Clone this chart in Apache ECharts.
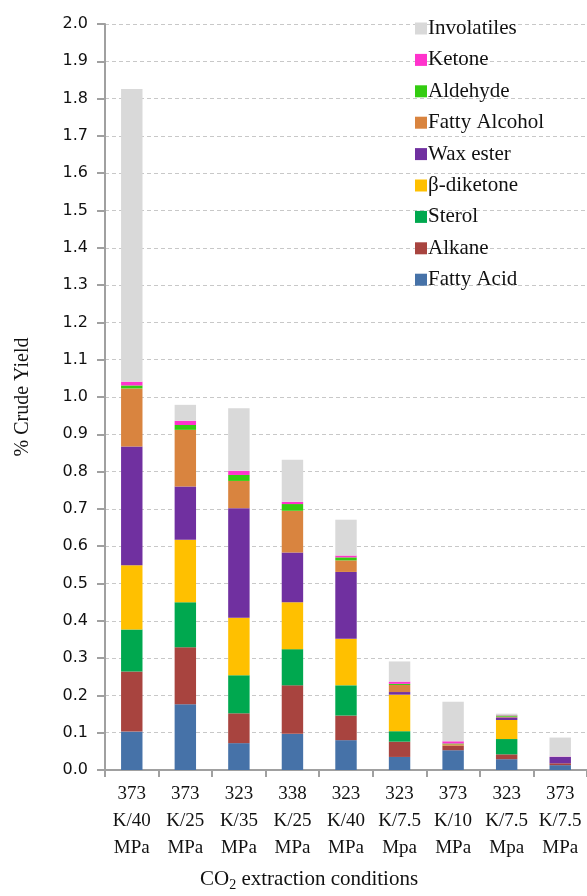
<!DOCTYPE html>
<html>
<head>
<meta charset="utf-8">
<script src="https://cdn.jsdelivr.net/npm/echarts@6/dist/echarts.min.js"></script>
<style>
  html, body { margin: 0; padding: 0; background: #fff; }
  #chart { width: 587px; height: 896px; }
</style>
</head>
<body>
<div id="chart"></div>
<script>
// Extraction conditions (temperature / pressure)
const conditions = [
  '373\nK/40\nMPa', '373\nK/25\nMPa', '323\nK/35\nMPa', '338\nK/25\nMPa', '323\nK/40\nMPa',
  '323\nK/7.5\nMpa', '373\nK/10\nMPa', '323\nK/7.5\nMpa', '373\nK/7.5\nMPa'
];

// Crude yield fractions (%) per compound class
const fattyAcid    = [0.103, 0.176, 0.072, 0.097, 0.080, 0.035, 0.053, 0.029, 0.013];
const alkane       = [0.161, 0.153, 0.080, 0.130, 0.066, 0.041, 0.012, 0.013, 0.005];
const sterol       = [0.113, 0.121, 0.102, 0.097, 0.081, 0.028, 0.000, 0.041, 0.000];
const betaDiketone = [0.172, 0.167, 0.154, 0.126, 0.125, 0.098, 0.000, 0.051, 0.000];
const waxEster     = [0.318, 0.143, 0.294, 0.133, 0.179, 0.007, 0.000, 0.007, 0.017];
const fattyAlcohol = [0.156, 0.152, 0.073, 0.112, 0.031, 0.019, 0.004, 0.002, 0.000];
const aldehyde     = [0.008, 0.013, 0.016, 0.018, 0.008, 0.003, 0.002, 0.003, 0.000];
const ketone       = [0.010, 0.011, 0.011, 0.006, 0.005, 0.006, 0.006, 0.001, 0.001];
const involatiles  = [0.785, 0.043, 0.168, 0.113, 0.096, 0.054, 0.106, 0.004, 0.051];

const yTicks = { min: 0, max: 2.0, interval: 0.1 };

const seriesDefs = [
  { name: 'Fatty Acid',    data: fattyAcid,    color: '#4672a8' },
  { name: 'Alkane',        data: alkane,       color: '#a8443f' },
  { name: 'Sterol',        data: sterol,       color: '#00a84f' },
  { name: 'β-diketone',    data: betaDiketone, color: '#ffc000' },
  { name: 'Wax ester',     data: waxEster,     color: '#7030a0' },
  { name: 'Fatty Alcohol', data: fattyAlcohol, color: '#d9843f' },
  { name: 'Aldehyde',      data: aldehyde,     color: '#33cc11' },
  { name: 'Ketone',        data: ketone,       color: '#ff33cc' },
  { name: 'Involatiles',   data: involatiles,  color: '#d9d9d9' }
];

const serif = '"Liberation Serif", "DejaVu Serif", serif';
const sans = '"DejaVu Sans", Verdana, sans-serif';

const chart = echarts.init(document.getElementById('chart'), null, { renderer: 'canvas' });

chart.setOption({
  animation: false,
  backgroundColor: '#ffffff',
  grid: { left: 105, right: 0, top: 24, bottom: 126, containLabel: false },
  legend: {
    orient: 'vertical',
    left: 410,
    top: 13,
    itemWidth: 12,
    itemHeight: 12,
    itemGap: 10.4,
    icon: 'rect',
    data: seriesDefs.map(s => s.name).reverse(),
    textStyle: { fontFamily: serif, fontSize: 21, color: '#111', padding: [0, 0, 0, -4], lineHeight: 21 }
  },
  xAxis: {
    type: 'category',
    data: conditions,
    axisLine: { lineStyle: { color: '#a0a0a0', width: 2 } },
    axisTick: { show: true, length: 7, lineStyle: { color: '#a0a0a0', width: 2 } },
    axisLabel: { fontFamily: serif, fontSize: 19, lineHeight: 27, color: '#111', margin: 11, interval: 0 }
  },
  yAxis: {
    type: 'value',
    min: yTicks.min,
    max: yTicks.max,
    interval: yTicks.interval,
    name: '% Crude Yield',
    nameLocation: 'middle',
    nameGap: 72,
    nameTextStyle: { fontFamily: serif, fontSize: 20, color: '#111' },
    axisLine: { show: true, lineStyle: { color: '#a0a0a0', width: 2 } },
    axisTick: { show: true, length: 8, lineStyle: { color: '#a0a0a0', width: 2 } },
    axisLabel: {
      fontFamily: sans, fontSize: 16, color: '#111', margin: 17,
      formatter: v => v.toFixed(1)
    },
    splitLine: { show: true, lineStyle: { color: '#c8c8c8', type: [4, 3], width: 1 } }
  },
  series: seriesDefs.map(s => ({
    name: s.name,
    type: 'bar',
    stack: 'yield',
    data: s.data,
    barWidth: '40%',
    itemStyle: { color: s.color },
    emphasis: { disabled: true }
  })),
  graphic: [{
    type: 'text',
    left: 200,
    top: 869,
    style: {
      text: '{a|CO}{s|2}{a| extraction conditions}',
      rich: {
        a: { fontFamily: serif, fontSize: 21, fill: '#111' },
        s: { fontFamily: serif, fontSize: 14, fill: '#111', padding: [12, 0, 0, 0] }
      }
    }
  }]
});
</script>
</body>
</html>
